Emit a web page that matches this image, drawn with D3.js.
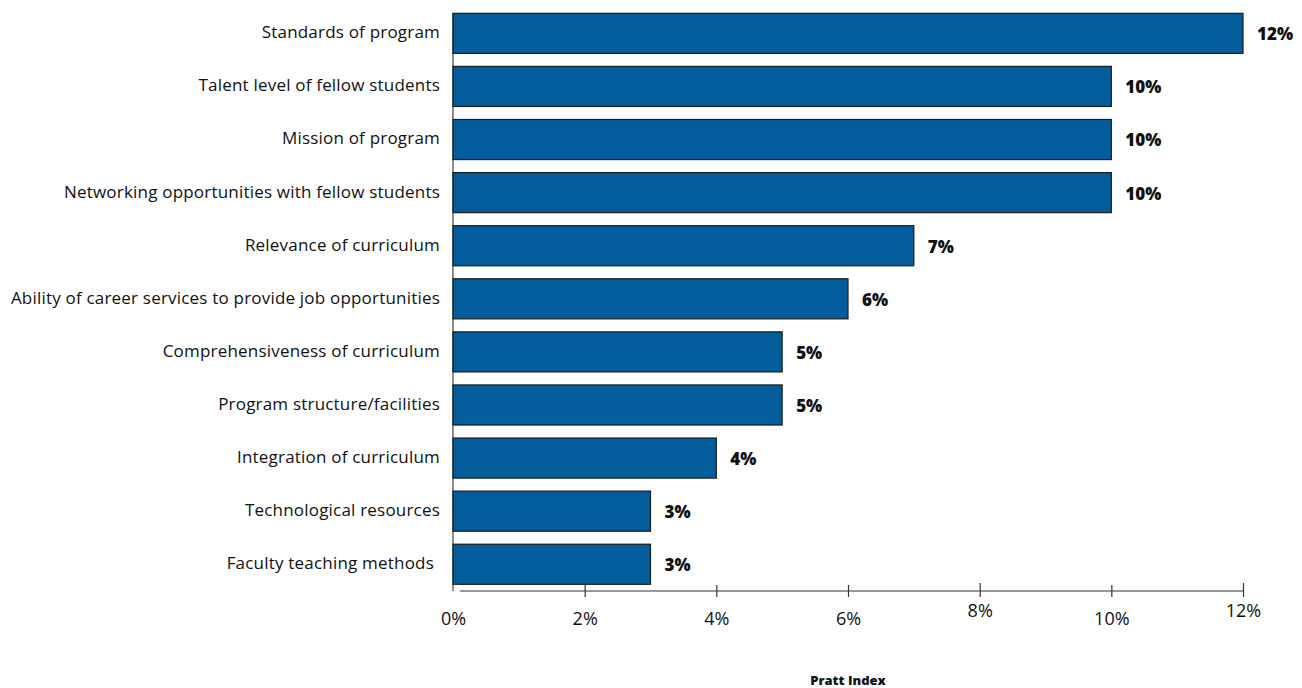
<!DOCTYPE html>
<html>
<head>
<meta charset="utf-8">
<script src="https://cdn.jsdelivr.net/npm/d3@7"></script>
<style>
  html, body { margin: 0; padding: 0; background: #fff; }
  svg { display: block; }
  text { font-family: "Open Sans", Lato, sans-serif; fill: #111; }
</style>
</head>
<body>
<svg id="chart" width="1302" height="688"></svg>
<script>
// Pratt index of program attributes
const categories = [
  "Standards of program",
  "Talent level of fellow students",
  "Mission of program",
  "Networking opportunities with fellow students",
  "Relevance of curriculum",
  "Ability of career services to provide job opportunities",
  "Comprehensiveness of curriculum",
  "Program structure/facilities",
  "Integration of curriculum",
  "Technological resources",
  "Faculty teaching methods"
];
const values = [12, 10, 10, 10, 7, 6, 5, 5, 4, 3, 3];
const tickValues = [0, 2, 4, 6, 8, 10, 12];
const tickLabels = ["0%", "2%", "4%", "6%", "8%", "10%", "12%"];
const axisTitle = "Pratt Index";

const svg = d3.select("#chart");
const left = 453, right = 1243, axisY = 591;

const x = d3.scaleLinear().domain([0, 12]).range([left, right]);
const y = d3.scaleBand()
  .domain(categories)
  .range([6.8, 590.8])
  .paddingInner(0.245)
  .paddingOuter(0.1225);

// left spine
svg.append("line")
  .attr("x1", left).attr("x2", left)
  .attr("y1", y(categories[0])).attr("y2", axisY)
  .attr("stroke", "#444").attr("stroke-width", 1.2);

// bars
svg.append("g").selectAll("rect")
  .data(values)
  .join("rect")
  .attr("x", x(0))
  .attr("y", (d, i) => y(categories[i]))
  .attr("width", d => x(d) - x(0))
  .attr("height", y.bandwidth())
  .attr("fill", "#035c9c")
  .attr("stroke", "#1c1c1c")
  .attr("stroke-width", 1.2);

// value labels
svg.append("g").selectAll("text")
  .data(values)
  .join("text")
  .attr("x", d => x(d) + 14)
  .attr("y", (d, i) => y(categories[i]) + y.bandwidth() / 2 + 1)
  .attr("dy", "0.35em")
  .attr("font-size", 17)
  .attr("font-weight", 800)
  .text(d => d + "%");

// category labels
svg.append("g").selectAll("text")
  .data(categories)
  .join("text")
  .attr("x", (d, i) => i === categories.length - 1 ? 434 : 440)
  .attr("y", d => y(d) + y.bandwidth() / 2 - 1)
  .attr("dy", "0.35em")
  .attr("text-anchor", "end")
  .attr("font-size", 17)
  .attr("letter-spacing", 0.2)
  .text(d => d);

// x axis
const axis = d3.axisBottom(x)
  .tickValues(tickValues)
  .tickFormat((d, i) => tickLabels[i])
  .tickSize(0);
const gAxis = svg.append("g").attr("transform", `translate(0,${axisY})`).call(axis);
gAxis.select(".domain").remove();
gAxis.append("line")
  .attr("x1", 460).attr("x2", right)
  .attr("stroke", "#333").attr("stroke-width", 1.2);
gAxis.selectAll(".tick line").remove();
gAxis.selectAll(".tick").filter(d => d > 0).append("line")
  .attr("y1", d => (d === 8 || d === 12) ? -8 : -6)
  .attr("y2", 6)
  .attr("stroke", "#333").attr("stroke-width", 1.2);
gAxis.selectAll(".tick text")
  .attr("y", d => (d === 8 || d === 12) ? 21 : 29)
  .attr("dy", "0")
  .attr("font-size", 18)
  .attr("font-family", "'Open Sans', Lato, sans-serif")
  .attr("fill", "#111")
  .style("dominant-baseline", "middle");

// axis title
svg.append("text")
  .attr("x", (left + right) / 2)
  .attr("y", 680)
  .attr("dy", "0.35em")
  .attr("text-anchor", "middle")
  .attr("font-size", 13)
  .attr("font-weight", 800)
  .text(axisTitle);
</script>
</body>
</html>
